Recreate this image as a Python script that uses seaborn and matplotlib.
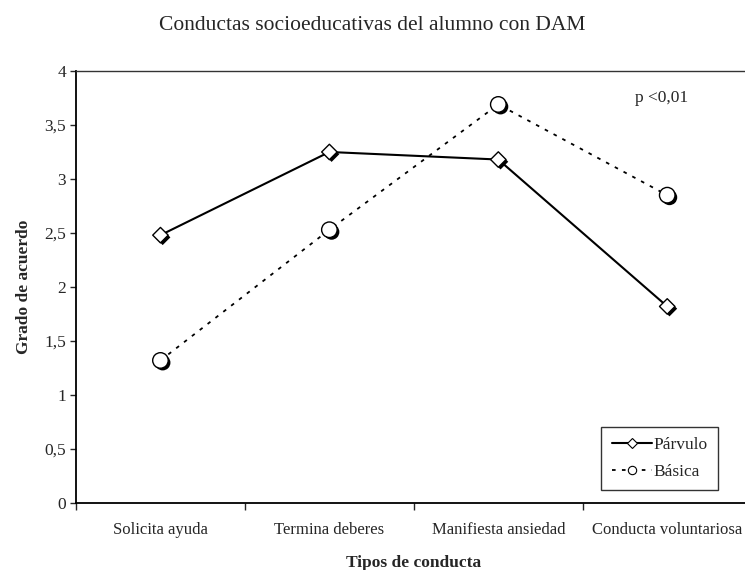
import matplotlib
matplotlib.use("Agg")
import matplotlib.pyplot as plt
import matplotlib.patheffects as pe
from matplotlib.lines import Line2D
import seaborn as sns

# data
categorias = ["Solicita ayuda", "Termina deberes", "Manifiesta ansiedad", "Conducta voluntariosa"]
parvulo = [2.48, 3.25, 3.18, 1.82]
basica = [1.32, 2.53, 3.69, 2.85]
y_ticks = [0, 0.5, 1, 1.5, 2, 2.5, 3, 3.5, 4]
y_ticklabels = ["0", "0,5", "1", "1,5", "2", "2,5", "3", "3,5", "4"]

sns.set_style("ticks")
plt.rcParams["font.family"] = ["Liberation Serif", "DejaVu Serif"]

fig = plt.figure(figsize=(7.45, 5.7), dpi=100)
ax = fig.add_axes([0.102, 0.1175, 0.907, 0.758])

# lines
sns.lineplot(x=categorias, y=parvulo, color="black", linewidth=1.5, ax=ax, sort=False)
sns.lineplot(x=categorias, y=basica, color="black", linewidth=1.3, linestyle=(0, (2, 3.5)),
             ax=ax, sort=False)

# markers with a small drop shadow
shadow = [pe.SimplePatchShadow(offset=(1.6, -1.6), shadow_rgbFace="black", alpha=1.0), pe.Normal()]
sns.scatterplot(x=categorias, y=parvulo, marker="D", s=62, color="white",
                edgecolor="black", linewidth=1.0, zorder=4, ax=ax)
ax.collections[-1].set_path_effects(shadow)
sns.scatterplot(x=categorias, y=basica, marker="o", s=125, color="white",
                edgecolor="black", linewidth=1.0, zorder=4, ax=ax)
ax.collections[-1].set_path_effects(shadow)

ax.set_xlim(-0.5, 3.5)
ax.set_ylim(0, 4)
ax.set_yticks(y_ticks)
ax.set_yticklabels(y_ticklabels)
ax.tick_params(axis="y", direction="out", length=4, width=1, labelsize=12.5, pad=3)

# category labels centred, tick marks between categories
ax.set_xticks(range(len(categorias)))
ax.set_xticklabels(categorias)
ax.set_xticks([-0.5, 0.5, 1.5, 2.5, 3.5], minor=True)
ax.tick_params(axis="x", which="major", length=0, labelsize=12, pad=14)
ax.tick_params(axis="x", which="minor", direction="out", length=5, width=1)

for s in ["left", "bottom"]:
    ax.spines[s].set_linewidth(1.3)
    ax.spines[s].set_color("black")
ax.spines["top"].set_linewidth(1.0)
ax.spines["top"].set_color("#333333")
ax.spines["right"].set_visible(False)

ax.set_xlabel("Tipos de conducta", fontsize=12.5, fontweight="bold", labelpad=12)
ax.set_ylabel("Grado de acuerdo", fontsize=12.5, fontweight="bold", labelpad=9)
fig.suptitle("Conductas socioeducativas del alumno con DAM", fontsize=15.5, y=0.972)

ax.text(0.867, 0.9375, "p <0,01", transform=ax.transAxes, ha="center", va="center", fontsize=12.5)

handles = [
    Line2D([], [], color="black", linewidth=1.5, marker="D", markersize=5,
           markerfacecolor="white", markeredgecolor="black", markeredgewidth=0.8),
    Line2D([], [], color="black", linewidth=1.3, linestyle=(0, (2, 3.5)), marker="o", markersize=6,
           markerfacecolor="white", markeredgecolor="black", markeredgewidth=0.8),
]
leg = ax.legend(handles, ["Párvulo", "Básica"], loc="lower right", bbox_to_anchor=(0.95, 0.03),
                fontsize=12.5, frameon=True, fancybox=False, handlelength=2.3, handletextpad=0.1,
                borderpad=0.6, labelspacing=0.6, borderaxespad=0)
leg.get_frame().set_edgecolor("black")
leg.get_frame().set_linewidth(1.0)

plt.savefig("out.png", dpi=100)
